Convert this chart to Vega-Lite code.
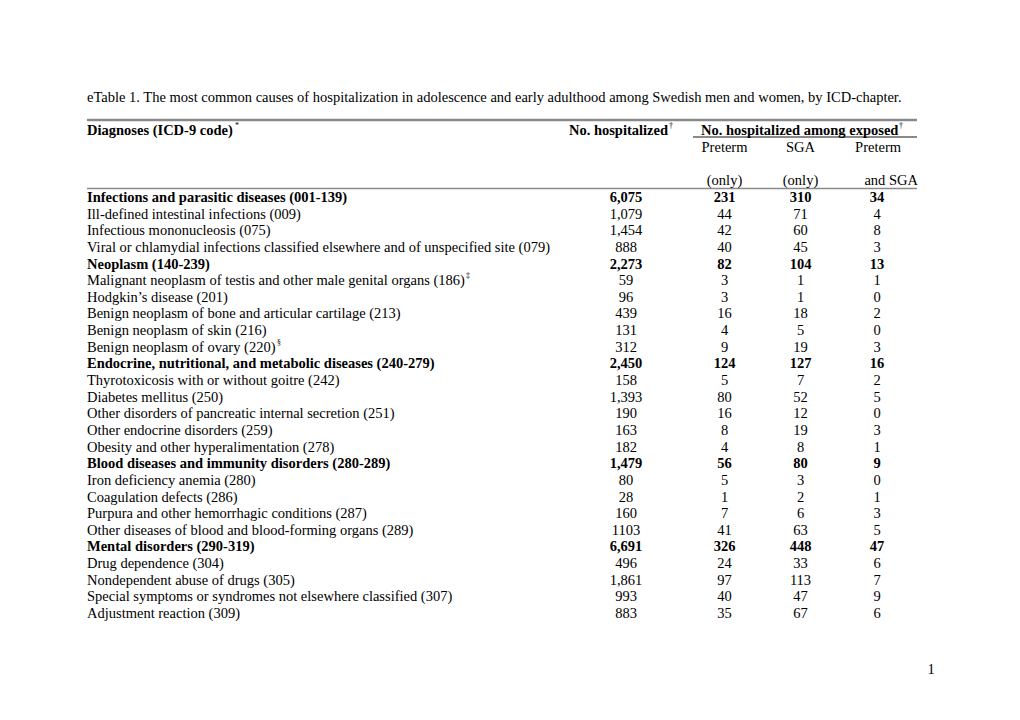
{
"$schema": "https://vega.github.io/schema/vega-lite/v6.json",
"width": 1020, "height": 720, "autosize": {"type": "none"}, "padding": 0,
"background": "white",
"config": {"view": {"stroke": null}, "text": {"font": "Liberation Serif", "fontSize": 14.5, "color": "black"}},
"data": {"values": [
{"row": 0, "label": "Infections and parasitic diseases (001-139)", "bold": true, "n": "6,075", "pre": "231", "sga": "310", "both": "34"},
{"row": 1, "label": "Ill-defined intestinal infections (009)", "bold": false, "n": "1,079", "pre": "44", "sga": "71", "both": "4"},
{"row": 2, "label": "Infectious mononucleosis (075)", "bold": false, "n": "1,454", "pre": "42", "sga": "60", "both": "8"},
{"row": 3, "label": "Viral or chlamydial infections classified elsewhere and of unspecified site (079)", "bold": false, "n": "888", "pre": "40", "sga": "45", "both": "3"},
{"row": 4, "label": "Neoplasm (140-239)", "bold": true, "n": "2,273", "pre": "82", "sga": "104", "both": "13"},
{"row": 5, "label": "Malignant neoplasm of testis and other male genital organs (186)", "bold": false, "n": "59", "pre": "3", "sga": "1", "both": "1"},
{"row": 6, "label": "Hodgkin’s disease (201)", "bold": false, "n": "96", "pre": "3", "sga": "1", "both": "0"},
{"row": 7, "label": "Benign neoplasm of bone and articular cartilage (213)", "bold": false, "n": "439", "pre": "16", "sga": "18", "both": "2"},
{"row": 8, "label": "Benign neoplasm of skin (216)", "bold": false, "n": "131", "pre": "4", "sga": "5", "both": "0"},
{"row": 9, "label": "Benign neoplasm of ovary (220)", "bold": false, "n": "312", "pre": "9", "sga": "19", "both": "3"},
{"row": 10, "label": "Endocrine, nutritional, and metabolic diseases (240-279)", "bold": true, "n": "2,450", "pre": "124", "sga": "127", "both": "16"},
{"row": 11, "label": "Thyrotoxicosis with or without goitre (242)", "bold": false, "n": "158", "pre": "5", "sga": "7", "both": "2"},
{"row": 12, "label": "Diabetes mellitus (250)", "bold": false, "n": "1,393", "pre": "80", "sga": "52", "both": "5"},
{"row": 13, "label": "Other disorders of pancreatic internal secretion (251)", "bold": false, "n": "190", "pre": "16", "sga": "12", "both": "0"},
{"row": 14, "label": "Other endocrine disorders (259)", "bold": false, "n": "163", "pre": "8", "sga": "19", "both": "3"},
{"row": 15, "label": "Obesity and other hyperalimentation (278)", "bold": false, "n": "182", "pre": "4", "sga": "8", "both": "1"},
{"row": 16, "label": "Blood diseases and immunity disorders (280-289)", "bold": true, "n": "1,479", "pre": "56", "sga": "80", "both": "9"},
{"row": 17, "label": "Iron deficiency anemia (280)", "bold": false, "n": "80", "pre": "5", "sga": "3", "both": "0"},
{"row": 18, "label": "Coagulation defects (286)", "bold": false, "n": "28", "pre": "1", "sga": "2", "both": "1"},
{"row": 19, "label": "Purpura and other hemorrhagic conditions (287)", "bold": false, "n": "160", "pre": "7", "sga": "6", "both": "3"},
{"row": 20, "label": "Other diseases of blood and blood-forming organs (289)", "bold": false, "n": "1103", "pre": "41", "sga": "63", "both": "5"},
{"row": 21, "label": "Mental disorders (290-319)", "bold": true, "n": "6,691", "pre": "326", "sga": "448", "both": "47"},
{"row": 22, "label": "Drug dependence (304)", "bold": false, "n": "496", "pre": "24", "sga": "33", "both": "6"},
{"row": 23, "label": "Nondependent abuse of drugs (305)", "bold": false, "n": "1,861", "pre": "97", "sga": "113", "both": "7"},
{"row": 24, "label": "Special symptoms or syndromes not elsewhere classified (307)", "bold": false, "n": "993", "pre": "40", "sga": "47", "both": "9"},
{"row": 25, "label": "Adjustment reaction (309)", "bold": false, "n": "883", "pre": "35", "sga": "67", "both": "6"}
]},
"encoding": {"y": {"field": "row", "type": "quantitative", "scale": {"domain": [-11.9, 31.37], "reverse": true, "nice": false, "zero": false}, "axis": null}},
"layer": [
{"transform": [{"filter": "datum.row == 0"}], "mark": {"type": "rule", "color": "#8a8a8a", "strokeWidth": 2.5},
 "encoding": {"x": {"datum": 87, "type": "quantitative", "scale": {"domain": [0, 1020], "nice": false, "zero": false}, "axis": null}, "x2": {"datum": 917}, "y": {"datum": -4.69, "type": "quantitative"}}},
{"transform": [{"filter": "datum.row == 0"}], "mark": {"type": "rule", "color": "#8a8a8a", "strokeWidth": 2},
 "encoding": {"x": {"datum": 693, "type": "quantitative", "scale": {"domain": [0, 1020], "nice": false, "zero": false}, "axis": null}, "x2": {"datum": 917}, "y": {"datum": -3.67, "type": "quantitative"}}},
{"transform": [{"filter": "datum.row == 0"}], "mark": {"type": "rule", "color": "#8a8a8a", "strokeWidth": 1.5},
 "encoding": {"x": {"datum": 87, "type": "quantitative", "scale": {"domain": [0, 1020], "nice": false, "zero": false}, "axis": null}, "x2": {"datum": 917}, "y": {"datum": -0.57, "type": "quantitative"}}},
{"transform": [{"filter": "datum.row == 0"}], "mark": {"type": "text", "align": "left", "text": "eTable 1. The most common causes of hospitalization in adolescence and early adulthood among Swedish men and women, by ICD-chapter."},
 "encoding": {"x": {"datum": 87, "type": "quantitative", "scale": {"domain": [0, 1020], "nice": false, "zero": false}, "axis": null}, "y": {"datum": -6, "type": "quantitative"}}},
{"transform": [{"filter": "datum.row == 0"}], "mark": {"type": "text", "align": "left", "fontWeight": "bold", "text": "Diagnoses (ICD-9 code)"},
 "encoding": {"x": {"datum": 87, "type": "quantitative", "scale": {"domain": [0, 1020], "nice": false, "zero": false}, "axis": null}, "y": {"datum": -4, "type": "quantitative"}}},
{"transform": [{"filter": "datum.row == 0"}], "mark": {"type": "text", "align": "left", "fontSize": 8, "dy": -5, "text": "*"},
 "encoding": {"x": {"datum": 235, "type": "quantitative", "scale": {"domain": [0, 1020], "nice": false, "zero": false}, "axis": null}, "y": {"datum": -4, "type": "quantitative"}}},
{"transform": [{"filter": "datum.row == 0"}], "mark": {"type": "text", "align": "right", "fontWeight": "bold", "text": "No. hospitalized"},
 "encoding": {"x": {"datum": 668, "type": "quantitative", "scale": {"domain": [0, 1020], "nice": false, "zero": false}, "axis": null}, "y": {"datum": -4, "type": "quantitative"}}},
{"transform": [{"filter": "datum.row == 0"}], "mark": {"type": "text", "align": "left", "fontSize": 8, "dy": -5, "text": "†"},
 "encoding": {"x": {"datum": 669, "type": "quantitative", "scale": {"domain": [0, 1020], "nice": false, "zero": false}, "axis": null}, "y": {"datum": -4, "type": "quantitative"}}},
{"transform": [{"filter": "datum.row == 0"}], "mark": {"type": "text", "align": "left", "fontWeight": "bold", "text": "No. hospitalized among exposed"},
 "encoding": {"x": {"datum": 701, "type": "quantitative", "scale": {"domain": [0, 1020], "nice": false, "zero": false}, "axis": null}, "y": {"datum": -4, "type": "quantitative"}}},
{"transform": [{"filter": "datum.row == 0"}], "mark": {"type": "text", "align": "left", "fontSize": 8, "dy": -5, "text": "†"},
 "encoding": {"x": {"datum": 899, "type": "quantitative", "scale": {"domain": [0, 1020], "nice": false, "zero": false}, "axis": null}, "y": {"datum": -4, "type": "quantitative"}}},
{"transform": [{"filter": "datum.row == 0"}], "mark": {"type": "text", "align": "center", "text": "Preterm"},
 "encoding": {"x": {"datum": 724.5, "type": "quantitative", "scale": {"domain": [0, 1020], "nice": false, "zero": false}, "axis": null}, "y": {"datum": -3, "type": "quantitative"}}},
{"transform": [{"filter": "datum.row == 0"}], "mark": {"type": "text", "align": "center", "text": "SGA"},
 "encoding": {"x": {"datum": 800.5, "type": "quantitative", "scale": {"domain": [0, 1020], "nice": false, "zero": false}, "axis": null}, "y": {"datum": -3, "type": "quantitative"}}},
{"transform": [{"filter": "datum.row == 0"}], "mark": {"type": "text", "align": "right", "text": "Preterm"},
 "encoding": {"x": {"datum": 901, "type": "quantitative", "scale": {"domain": [0, 1020], "nice": false, "zero": false}, "axis": null}, "y": {"datum": -3, "type": "quantitative"}}},
{"transform": [{"filter": "datum.row == 0"}], "mark": {"type": "text", "align": "center", "text": "(only)"},
 "encoding": {"x": {"datum": 724.5, "type": "quantitative", "scale": {"domain": [0, 1020], "nice": false, "zero": false}, "axis": null}, "y": {"datum": -1, "type": "quantitative"}}},
{"transform": [{"filter": "datum.row == 0"}], "mark": {"type": "text", "align": "center", "text": "(only)"},
 "encoding": {"x": {"datum": 800.5, "type": "quantitative", "scale": {"domain": [0, 1020], "nice": false, "zero": false}, "axis": null}, "y": {"datum": -1, "type": "quantitative"}}},
{"transform": [{"filter": "datum.row == 0"}], "mark": {"type": "text", "align": "right", "text": "and SGA"},
 "encoding": {"x": {"datum": 918, "type": "quantitative", "scale": {"domain": [0, 1020], "nice": false, "zero": false}, "axis": null}, "y": {"datum": -1, "type": "quantitative"}}},
{"transform": [{"filter": "datum.row == 0"}], "mark": {"type": "text", "align": "center", "text": "1"},
 "encoding": {"x": {"datum": 931, "type": "quantitative", "scale": {"domain": [0, 1020], "nice": false, "zero": false}, "axis": null}, "y": {"datum": 28.37, "type": "quantitative"}}},
{"transform": [{"filter": "datum.row == 5"}], "mark": {"type": "text", "align": "left", "fontSize": 8, "dy": -5, "text": "‡"},
 "encoding": {"x": {"datum": 466, "type": "quantitative", "scale": {"domain": [0, 1020], "nice": false, "zero": false}, "axis": null}}},
{"transform": [{"filter": "datum.row == 9"}], "mark": {"type": "text", "align": "left", "fontSize": 8, "dy": -5, "text": "§"},
 "encoding": {"x": {"datum": 277, "type": "quantitative", "scale": {"domain": [0, 1020], "nice": false, "zero": false}, "axis": null}}},
{"transform": [{"filter": "!datum.bold"}], "mark": {"type": "text", "align": "left"},
 "encoding": {"x": {"datum": 87, "type": "quantitative", "scale": {"domain": [0, 1020], "nice": false, "zero": false}, "axis": null}, "text": {"field": "label"}}},
{"transform": [{"filter": "datum.bold"}], "mark": {"type": "text", "align": "left", "fontWeight": "bold"},
 "encoding": {"x": {"datum": 87, "type": "quantitative", "scale": {"domain": [0, 1020], "nice": false, "zero": false}, "axis": null}, "text": {"field": "label"}}},
{"transform": [{"filter": "!datum.bold"}], "mark": {"type": "text", "align": "center"},
 "encoding": {"x": {"datum": 626, "type": "quantitative", "scale": {"domain": [0, 1020], "nice": false, "zero": false}, "axis": null}, "text": {"field": "n"}}},
{"transform": [{"filter": "datum.bold"}], "mark": {"type": "text", "align": "center", "fontWeight": "bold"},
 "encoding": {"x": {"datum": 626, "type": "quantitative", "scale": {"domain": [0, 1020], "nice": false, "zero": false}, "axis": null}, "text": {"field": "n"}}},
{"transform": [{"filter": "!datum.bold"}], "mark": {"type": "text", "align": "center"},
 "encoding": {"x": {"datum": 724.5, "type": "quantitative", "scale": {"domain": [0, 1020], "nice": false, "zero": false}, "axis": null}, "text": {"field": "pre"}}},
{"transform": [{"filter": "datum.bold"}], "mark": {"type": "text", "align": "center", "fontWeight": "bold"},
 "encoding": {"x": {"datum": 724.5, "type": "quantitative", "scale": {"domain": [0, 1020], "nice": false, "zero": false}, "axis": null}, "text": {"field": "pre"}}},
{"transform": [{"filter": "!datum.bold"}], "mark": {"type": "text", "align": "center"},
 "encoding": {"x": {"datum": 800.5, "type": "quantitative", "scale": {"domain": [0, 1020], "nice": false, "zero": false}, "axis": null}, "text": {"field": "sga"}}},
{"transform": [{"filter": "datum.bold"}], "mark": {"type": "text", "align": "center", "fontWeight": "bold"},
 "encoding": {"x": {"datum": 800.5, "type": "quantitative", "scale": {"domain": [0, 1020], "nice": false, "zero": false}, "axis": null}, "text": {"field": "sga"}}},
{"transform": [{"filter": "!datum.bold"}], "mark": {"type": "text", "align": "center"},
 "encoding": {"x": {"datum": 877, "type": "quantitative", "scale": {"domain": [0, 1020], "nice": false, "zero": false}, "axis": null}, "text": {"field": "both"}}},
{"transform": [{"filter": "datum.bold"}], "mark": {"type": "text", "align": "center", "fontWeight": "bold"},
 "encoding": {"x": {"datum": 877, "type": "quantitative", "scale": {"domain": [0, 1020], "nice": false, "zero": false}, "axis": null}, "text": {"field": "both"}}}
]
}
